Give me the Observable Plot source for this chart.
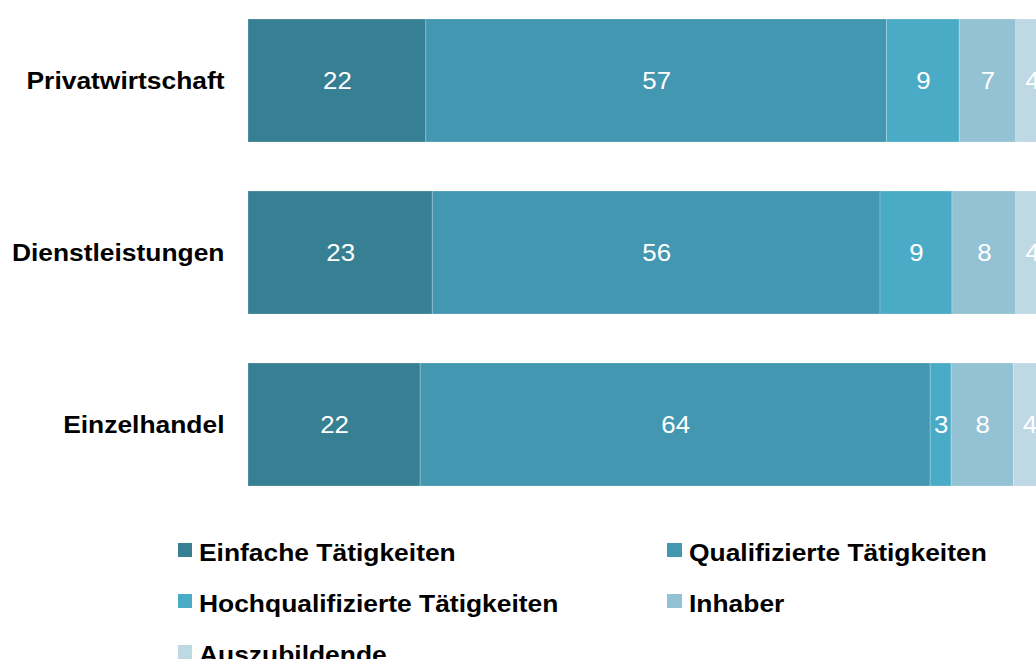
<!DOCTYPE html>
<html>
<head>
<meta charset="utf-8">
<script src="https://cdn.jsdelivr.net/npm/d3@7"></script>
<script src="https://cdn.jsdelivr.net/npm/@observablehq/plot@0.6"></script>
<style>
  html, body { margin: 0; padding: 0; background: #fff; overflow: hidden; }
  body { width: 1036px; height: 659px; font-family: "Liberation Sans", Arial, sans-serif; }
  #legend {
    display: grid;
    grid-template-columns: 489.5px 369px;
    padding-left: 177.5px;
    margin-top: 27px;
  }
  .item { line-height: 51px; height: 51px; white-space: nowrap; font-size: 24px; font-weight: bold; color: #000; }
  .sw { display: inline-block; width: 14.5px; height: 14px; vertical-align: 4px; margin-right: 7px; }
  .lt { display: inline-block; transform: scaleX(1.1); transform-origin: left center; }
</style>
</head>
<body>
<div id="chart"></div>
<div id="legend"></div>
<script>
const categories = ["Privatwirtschaft", "Dienstleistungen", "Einzelhandel"];
const series = ["Einfache Tätigkeiten", "Qualifizierte Tätigkeiten", "Hochqualifizierte Tätigkeiten", "Inhaber", "Auszubildende"];
const colors = ["#377f93", "#4397b0", "#4aabc6", "#93c2d4", "#bed8e4"];

// measured segment lengths (per category, in the order of `categories`)
const einfache = [22, 22.8, 21.3];
const qualifiziert = [57, 55.4, 63.1];
const hochqualifiziert = [9, 8.9, 2.6];
const inhaber = [7, 7.9, 7.7];
const auszubildende = [4, 4, 4];

// printed labels
const einfacheLabels = ["22", "23", "22"];
const qualifiziertLabels = ["57", "56", "64"];
const hochqualifiziertLabels = ["9", "9", "3"];
const inhaberLabels = ["7", "8", "8"];
const auszubildendeLabels = ["4", "4", "4"];

const values = [einfache, qualifiziert, hochqualifiziert, inhaber, auszubildende];
const labels = [einfacheLabels, qualifiziertLabels, hochqualifiziertLabels, inhaberLabels, auszubildendeLabels];

const rows = [];
series.forEach((s, i) => {
  categories.forEach((c, j) => {
    rows.push({category: c, series: s, value: values[i][j], label: labels[i][j]});
  });
});

const chart = Plot.plot({
  width: 1036,
  height: 500,
  marginLeft: 248,
  marginRight: 0,
  marginTop: 19,
  marginBottom: 14,
  style: {fontFamily: "'Liberation Sans', Arial, sans-serif", background: "#fff"},
  x: {domain: [0, 97.5], axis: null},
  y: {domain: categories, paddingInner: 0.285, paddingOuter: 0, label: null, axis: null},
  color: {domain: series, range: colors},
  marks: [
    Plot.barX(rows, Plot.stackX({x: "value", y: "category", fill: "series", stroke: "#fff", strokeOpacity: 0.22, strokeWidth: 1, clip: true})),
    Plot.text(rows, Plot.stackX({x: "value", y: "category", text: "label", fill: "#fff", fontSize: 23.5, clip: true})),
    Plot.axisY({tickSize: 0, tickPadding: 24, fontSize: 24, fontWeight: "bold", fill: "#000", label: null})
  ]
});
document.getElementById("chart").appendChild(chart);

// widen glyphs horizontally like the reference rendering (keep each text's anchor point fixed)
d3.select(chart).selectAll('g[aria-label="y-axis tick label"] text, g[aria-label="text"] text').each(function () {
  const x = +(this.getAttribute("x") || 0);
  const old = this.getAttribute("transform") || "";
  this.setAttribute("transform", `${old} translate(${x},0) scale(1.1,1) translate(${-x},0)`);
});

const legend = d3.select("#legend");
series.forEach((s, i) => {
  const item = legend.append("div").attr("class", "item");
  item.append("span").attr("class", "sw").style("background", colors[i]);
  item.append("span").attr("class", "lt").text(s);
});
</script>
</body>
</html>
